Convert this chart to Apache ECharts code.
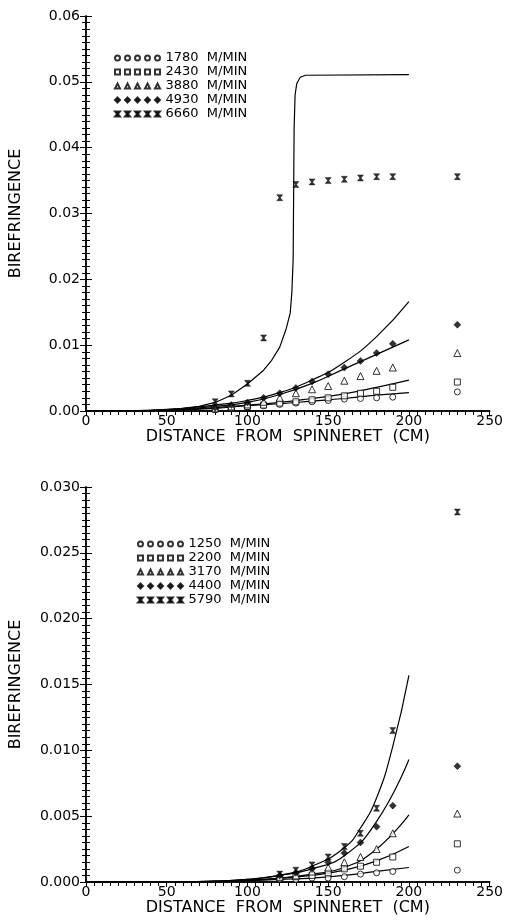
<!DOCTYPE html>
<html><head><meta charset="utf-8">
<script src="https://cdn.jsdelivr.net/npm/echarts@6/dist/echarts.min.js"></script>
<style>html,body{margin:0;padding:0;background:#fff}#c{width:506px;height:924px}</style>
</head><body><div id="c"></div>
<script>
// ---------- DATA ----------
// Top panel: measured points (distance cm)
const topPtX = [80, 90, 100, 110, 120, 130, 140, 150, 160, 170, 180, 190, 230];
const topNames = ['1780  M/MIN', '2430  M/MIN', '3880  M/MIN', '4930  M/MIN', '6660  M/MIN'];
const p1780 = [0.0002, 0.0004, 0.0006, 0.0008, 0.0010, 0.0012, 0.0014, 0.0016, 0.0018, 0.0019, 0.0020, 0.0021, 0.0029];
const p2430 = [0.0003, 0.0005, 0.0007, 0.0009, 0.0012, 0.0014, 0.0017, 0.0020, 0.0023, 0.0027, 0.0030, 0.0036, 0.0044];
const p3880 = [0.0004, 0.0007, 0.0010, 0.0014, 0.0020, 0.0027, 0.0033, 0.0038, 0.0046, 0.0053, 0.0061, 0.0066, 0.0088];
const p4930 = [0.0005, 0.0009, 0.0013, 0.0020, 0.0027, 0.0035, 0.0045, 0.0056, 0.0066, 0.0076, 0.0088, 0.0102, 0.0131];
const p6660 = [0.0014, 0.0026, 0.0042, 0.0111, 0.0324, 0.0344, 0.0348, 0.0350, 0.0352, 0.0354, 0.0356, 0.0356, 0.0356];
// Top panel: model curves [distance, birefringence]
const c1780 = [[0,0],[20,0.00001],[40,0.00005],[60,0.0002],[80,0.0004],[100,0.0008],[120,0.0011],[140,0.0015],[160,0.0019],[180,0.0024],[200,0.0028]];
const c2430 = [[0,0],[20,0.00001],[40,0.00005],[60,0.0002],[80,0.0005],[100,0.0009],[120,0.0013],[140,0.0019],[160,0.0026],[180,0.0036],[200,0.0047]];
const c3880 = [[0,0],[20,0.00002],[40,0.0001],[60,0.0003],[80,0.0007],[100,0.0013],[120,0.0025],[140,0.0042],[160,0.0064],[180,0.0086],[200,0.0108]];
const c4930 = [[0,0],[20,0.00002],[40,0.0001],[60,0.0004],[80,0.0009],[100,0.0016],[120,0.0028],[140,0.0047],[160,0.0074],[180,0.0113],[200,0.0166]];
const c6660 = [[0,0],[20,0.00002],[40,0.0001],[60,0.0004],[70,0.0007],[80,0.0013],[90,0.0024],[100,0.0041],[110,0.0062],[115,0.0077],[120,0.0097],[124,0.0125],[126.5,0.0149],[127.5,0.018],[128.3,0.023],[128.6,0.033],[128.9,0.043],[129.5,0.048],[130.5,0.0497],[132.7,0.0507],[136,0.051],[200,0.0511]];

// Bottom panel: measured points
const botPtX = [120, 130, 140, 150, 160, 170, 180, 190, 230];
const botNames = ['1250  M/MIN', '2200  M/MIN', '3170  M/MIN', '4400  M/MIN', '5790  M/MIN'];
const p1250 = [0.0002, 0.0002, 0.0003, 0.0003, 0.0004, 0.0006, 0.0007, 0.0008, 0.0009];
const p2200 = [0.0003, 0.0004, 0.0005, 0.0007, 0.0010, 0.0012, 0.0015, 0.0019, 0.0029];
const p3170 = [0.0004, 0.0005, 0.0008, 0.0011, 0.0015, 0.0019, 0.0025, 0.0037, 0.0052];
const p4400 = [0.0005, 0.0007, 0.0010, 0.0015, 0.0022, 0.0030, 0.0042, 0.0058, 0.0088];
const p5790 = [0.0006, 0.0009, 0.0013, 0.0019, 0.0027, 0.0037, 0.0056, 0.0115, 0.0281];
// Bottom panel: model curves
const c1250 = [[0,0],[60,0.00001],[80,0.00003],[100,0.0001],[120,0.0002],[140,0.0003],[160,0.0005],[180,0.0008],[200,0.0011]];
const c2200 = [[0,0],[60,0.00001],[80,0.00004],[100,0.0001],[120,0.0003],[140,0.0005],[160,0.0009],[180,0.0016],[200,0.0027]];
const c3170 = [[0,0],[60,0.00001],[80,0.00005],[100,0.00015],[120,0.0003],[140,0.0006],[160,0.0011],[180,0.0025],[200,0.0051]];
const c4400 = [[0,0],[60,0.00001],[80,0.00006],[100,0.0002],[120,0.0005],[140,0.0010],[160,0.0020],[180,0.0046],[200,0.0093]];
const c5790 = [[0,0],[60,0.00001],[80,0.00007],[100,0.0002],[120,0.0005],[140,0.0012],[160,0.0026],[170,0.0041],[180,0.0064],[190,0.0103],[200,0.0157]];

const xTitle = 'DISTANCE  FROM  SPINNERET  (CM)';
const yTitle = 'BIREFRINGENCE';

// ---------- STYLE / BUILD ----------
const FONT = 'DejaVu Sans';
function shapePath(kind, x, y) {
  const s = 5;
  if (kind === 'circle') { const r = 2.5, cx = x + 2.5, cy = y + 2.5;
    return `M${cx - r},${cy} A${r},${r} 0 1,0 ${cx + r},${cy} A${r},${r} 0 1,0 ${cx - r},${cy} Z `; }
  if (kind === 'square') return `M${x},${y} L${x + s},${y} L${x + s},${y + s} L${x},${y + s} Z `;
  if (kind === 'tri') return `M${x + 2.5},${y} L${x + s},${y + s} L${x},${y + s} Z `;
  if (kind === 'dia') return `M${x + 2.5},${y} L${x + s},${y + 2.5} L${x + 2.5},${y + s} L${x},${y + 2.5} Z `;
  return `M${x},${y} L${x + s},${y} L${x + 3},${y + 2.5} L${x + s},${y + s} L${x},${y + s} L${x + 2},${y + 2.5} Z `;
}
function onePath(kind) { return 'path://' + shapePath(kind, 0, 0); }
function rowPath(kind) { let p = ''; for (let i = 0; i < 5; i++) p += shapePath(kind, i * 10, 0); return 'path://' + p; }
const kinds = ['circle', 'square', 'tri', 'dia', 'hour'];
const sizes = [6, 6, 7, 7, 6];

function scatter(name, xs, ys, k, xi, yi) {
  const hollow = k < 3;
  return {
    type: 'scatter', name, xAxisIndex: xi, yAxisIndex: yi, z: 5,
    symbol: onePath(kinds[k]), symbolSize: sizes[k],
    itemStyle: hollow ? { color: '#fff', borderColor: '#000', borderWidth: 1 } : { color: '#000', borderColor: '#000', borderWidth: 0.5 },
    data: xs.map((x, i) => [x, ys[i]])
  };
}
function curve(name, data, xi, yi, smooth) {
  return { type: 'line', name, xAxisIndex: xi, yAxisIndex: yi, data, showSymbol: false, symbol: 'none',
    smooth: smooth, lineStyle: { color: '#000', width: 1.2 }, z: 3, silent: true };
}
function legend(names, left, top) {
  return {
    orient: 'vertical', left, top, itemWidth: 48, itemHeight: 5, itemGap: 0, selectedMode: false,
    data: names.map((n, k) => ({ name: n, icon: rowPath(kinds[k]) })),
    textStyle: { fontFamily: FONT, fontSize: 13, color: '#000', lineHeight: 14, padding: [0, 0, 0, -1] }
  };
}
const lineS = { show: true, lineStyle: { color: '#000', width: 1.5 } };
function xAxes(gi) {
  return [{
    gridIndex: gi, type: 'value', min: 0, max: 250, interval: 50, position: 'bottom',
    axisLine: lineS, splitLine: { show: false },
    axisTick: { show: true, inside: false, length: 5, lineStyle: { color: '#000' } },
    minorTick: { show: true, splitNumber: 10, length: 4, lineStyle: { color: '#000' } },
    axisLabel: { fontFamily: FONT, fontSize: 14, color: '#000', margin: 3 },
    name: xTitle, nameLocation: 'middle', nameGap: 16,
    nameTextStyle: { fontFamily: FONT, fontSize: 16, color: '#000' }
  }, {
    gridIndex: gi, type: 'value', min: 0, max: 250, interval: 50, position: 'top',
    axisLine: lineS, splitLine: { show: false }, axisLabel: { show: false },
    axisTick: { show: true, inside: true, length: 5, lineStyle: { color: '#000' } },
    minorTick: { show: true, splitNumber: 10, length: 3, lineStyle: { color: '#000' } }
  }];
}
function yAxes(gi, max, interval, dec, gap) {
  return [{
    gridIndex: gi, type: 'value', min: 0, max, interval, position: 'left',
    axisLine: lineS, splitLine: { show: false },
    axisTick: { show: true, inside: true, length: 6, lineStyle: { color: '#000' } },
    minorTick: { show: true, splitNumber: 10, length: 4, lineStyle: { color: '#000' } },
    axisLabel: { fontFamily: FONT, fontSize: 14, color: '#000', margin: 6, formatter: v => v.toFixed(dec) },
    name: yTitle, nameLocation: 'middle', nameGap: gap,
    nameTextStyle: { fontFamily: FONT, fontSize: 16, color: '#000' }
  }, {
    gridIndex: gi, type: 'value', min: 0, max, interval, position: 'right',
    axisLine: lineS, splitLine: { show: false }, axisLabel: { show: false },
    axisTick: { show: true, inside: true, length: 6, lineStyle: { color: '#000' } },
    minorTick: { show: true, splitNumber: 10, length: 4, lineStyle: { color: '#000' } }
  }];
}

const topP = [p1780, p2430, p3880, p4930, p6660];
const topC = [c1780, c2430, c3880, c4930];
const botP = [p1250, p2200, p3170, p4400, p5790];
const botC = [c1250, c2200, c3170, c4400, c5790];

const series = [];
topC.forEach((c, i) => series.push(curve('fitT' + i, c, 0, 0, 0.5)));
series.push(curve('fitT4', c6660, 0, 0, false));
topP.forEach((p, k) => series.push(scatter(topNames[k], topPtX, p, k, 0, 0)));
botC.forEach((c, i) => series.push(curve('fitB' + i, c, 2, 2, 0.5)));
botP.forEach((p, k) => series.push(scatter(botNames[k], botPtX, p, k, 2, 2)));

const chart = echarts.init(document.getElementById('c'), null, { renderer: 'canvas' });
chart.setOption({
  animation: false,
  backgroundColor: '#fff',
  grid: [
    { left: 84, top: 16, width: 407, height: 395 },
    { left: 86, top: 487, width: 407, height: 395 }
  ],
  legend: [legend(topNames, 109, 46), legend(botNames, 132, 532)],
  xAxis: [...xAxes(0), ...xAxes(1)],
  yAxis: [...yAxes(0, 0.06, 0.01, 2, 62), ...yAxes(1, 0.03, 0.005, 3, 62)],
  series
});
</script></body></html>
